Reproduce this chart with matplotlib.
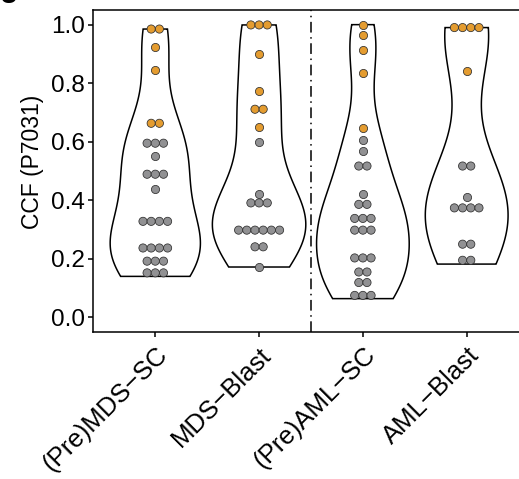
import numpy as np
import matplotlib.pyplot as plt

plt.rcParams['font.family'] = ['Liberation Sans', 'DejaVu Sans']

groups = ['(Pre)MDS\u2212SC', 'MDS\u2212Blast', '(Pre)AML\u2212SC', 'AML\u2212Blast']

# CCF of each mutation, split into high-CCF (orange) and the rest (grey)
mds_sc_high = [0.985, 0.985, 0.924, 0.846, 0.663, 0.663]
mds_sc_low = [0.595, 0.595, 0.595, 0.552, 0.489, 0.489, 0.489, 0.439,
              0.328, 0.328, 0.328, 0.328, 0.237, 0.237, 0.237, 0.237,
              0.192, 0.192, 0.192, 0.140, 0.152, 0.164]
mds_blast_high = [0.999, 0.999, 0.999, 0.901, 0.772, 0.711, 0.711, 0.652]
mds_blast_low = [0.600, 0.421, 0.391, 0.391, 0.391,
                 0.298, 0.298, 0.298, 0.298, 0.298, 0.298,
                 0.241, 0.241, 0.172]
aml_sc_high = [1.0, 0.963, 0.914, 0.834, 0.648]
aml_sc_low = [0.606, 0.570, 0.517, 0.517, 0.420, 0.386, 0.386,
              0.338, 0.338, 0.338, 0.298, 0.298, 0.298,
              0.203, 0.203, 0.203, 0.155, 0.155, 0.119, 0.119,
              0.064, 0.075, 0.086]
aml_blast_high = [0.99, 0.99, 0.99, 0.99, 0.842]
aml_blast_low = [0.517, 0.517, 0.410, 0.374, 0.374, 0.374, 0.374,
                 0.250, 0.250, 0.182, 0.208]

high = [mds_sc_high, mds_blast_high, aml_sc_high, aml_blast_high]
low = [mds_sc_low, mds_blast_low, aml_sc_low, aml_blast_low]

ORANGE = '#E49C30'
GREY = '#919193'
BINWIDTH = 0.028


def nrd0(x):
    x = np.asarray(x)
    sd = x.std(ddof=1)
    iqr = np.subtract(*np.percentile(x, [75, 25]))
    lo = min(sd, iqr / 1.34) if iqr > 0 else sd
    return 0.9 * lo * len(x) ** -0.2


def kde(x, grid):
    bw = nrd0(x)
    z = (grid[:, None] - np.asarray(x)[None, :]) / bw
    return np.exp(-0.5 * z ** 2).sum(axis=1) / (len(x) * bw * np.sqrt(2 * np.pi))


def dot_density_bins(values, colors, bw):
    # greedy dot-density binning: bin starts at the lowest value left,
    # centre is the midpoint of its first and last member
    order = np.argsort(values)
    v = np.asarray(values)[order]
    c = np.asarray(colors)[order]
    bins = []
    i = 0
    while i < len(v):
        j = i
        while j + 1 < len(v) and v[j + 1] < v[i] + bw:
            j += 1
        bins.append(((v[i] + v[j]) / 2, list(c[i:j + 1])))
        i = j + 1
    return bins


fig = plt.figure(figsize=(5.19, 4.79), dpi=100)
ax = fig.add_axes([0.1792, 0.3069, 0.840, 0.6722])
ax.set_xlim(0.4, 4.6)
ax.set_ylim(-0.05, 1.05)

# violins, scale = "area": common density scale across groups
grids, dens = [], []
for h, l in zip(high, low):
    vals = np.array(h + l)
    g = np.linspace(vals.min(), vals.max(), 512)
    grids.append(g)
    dens.append(kde(vals, g))
dmax = max(d.max() for d in dens)

for i, (g, d) in enumerate(zip(grids, dens)):
    x = i + 1
    w = 0.45 * d / dmax
    xs = np.concatenate([x - w, (x + w)[::-1], [x - w[0]]])
    ys = np.concatenate([g, g[::-1], [g[0]]])
    ax.fill(xs, ys, facecolor='white', edgecolor='black', lw=1.1, zorder=2)

# dot size in data units along x, so dots touch side by side
fig.canvas.draw()
px_per_y = ax.transData.transform((0, 1))[1] - ax.transData.transform((0, 0))[1]
px_per_x = ax.transData.transform((1, 0))[0] - ax.transData.transform((0, 0))[0]
dot_px = BINWIDTH * px_per_y
dx = dot_px / px_per_x
dot_pt = dot_px * 72 / fig.dpi

for i, (h, l) in enumerate(zip(high, low)):
    vals = h + l
    cols = [ORANGE] * len(h) + [GREY] * len(l)
    for yc, cs in dot_density_bins(vals, cols, BINWIDTH):
        k = len(cs)
        xs = i + 1 + (np.arange(k) - (k - 1) / 2) * dx
        ax.scatter(xs, [yc] * k, s=dot_pt ** 2, c=cs, edgecolors='#2e2e2e',
                   linewidths=0.55, zorder=3)

ax.axvline(2.5, color='black', lw=1.1, linestyle=(0, (7, 3, 1, 3)), zorder=1)

ax.set_xticks(range(1, 5))
ax.set_xticklabels(groups, rotation=45, ha='right', va='top',
                   rotation_mode='anchor', fontsize=18.5)
ax.set_yticks([0.0, 0.2, 0.4, 0.6, 0.8, 1.0])
ax.set_yticklabels(['0.0', '0.2', '0.4', '0.6', '0.8', '1.0'], fontsize=17.5)
ax.tick_params(length=3.6, width=1.1, color='black', pad=2)
ax.tick_params(axis='x', pad=4)
for sp in ax.spines.values():
    sp.set_linewidth(1.1)
ax.set_ylabel('CCF (P7031)', fontsize=16.5)
ax.yaxis.set_label_coords(-0.112, 0.528)

fig.text(0.0, 1.008, 'g', fontsize=22, fontweight='bold', va='baseline', ha='left')

fig.savefig('out.png', dpi=100)
